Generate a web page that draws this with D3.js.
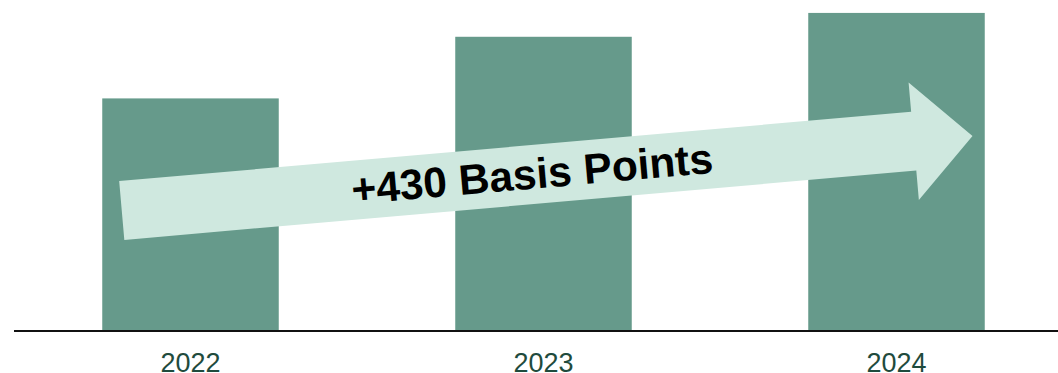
<!DOCTYPE html>
<html>
<head>
<meta charset="utf-8">
<script src="https://cdn.jsdelivr.net/npm/d3@7"></script>
<style>
  html, body { margin: 0; padding: 0; background: #ffffff; }
  svg { display: block; }
</style>
</head>
<body>
<div id="chart"></div>
<script>
// ---- data ----
const categories = ["2022", "2023", "2024"];
const values = [11.7, 14.8, 16.0];
const arrowLabel = "+430 Basis Points";

// ---- layout ----
const W = 1058, H = 373;
const baseY = 331;

const svg = d3.select("#chart").append("svg")
  .attr("width", W).attr("height", H);

const x = d3.scaleBand()
  .domain(categories)
  .range([14, 1073])
  .paddingInner(0.5)
  .paddingOuter(0.25);

const y = d3.scaleLinear()
  .domain([0, 16.65])
  .range([baseY, 0]);

// bars
svg.append("g").selectAll("rect")
  .data(categories.map((c, i) => ({ c, v: values[i] })))
  .join("rect")
  .attr("x", d => x(d.c))
  .attr("y", d => y(d.v))
  .attr("width", x.bandwidth())
  .attr("height", d => y(0) - y(d.v))
  .attr("fill", "#669a8b");

// x axis
const xAxis = svg.append("g")
  .attr("transform", `translate(0,${baseY})`)
  .call(d3.axisBottom(x).tickSize(0).tickPadding(22));
xAxis.select(".domain").remove();
xAxis.selectAll("text")
  .attr("font-family", "Liberation Sans, Arial, sans-serif")
  .attr("font-size", 27)
  .attr("fill", "#1f4b3d");

svg.append("line")
  .attr("x1", 14).attr("x2", W)
  .attr("y1", baseY).attr("y2", baseY)
  .attr("stroke", "#111").attr("stroke-width", 2);

// arrow annotation (starts inside the 2022 bar, ends inside the 2024 bar)
const tailX = x("2022") + 19.5, tailY = 210.5;
const angle = -5;
const shaftLen = 795, shaftHalf = 29.5, headLen = 59, headHalf = 59;
const g = svg.append("g")
  .attr("transform", `translate(${tailX},${tailY}) rotate(${angle})`);
g.append("path")
  .attr("d", `M0,${-shaftHalf} L${shaftLen},${-shaftHalf} L${shaftLen},${-headHalf} L${shaftLen + headLen},0 L${shaftLen},${headHalf} L${shaftLen},${shaftHalf} L0,${shaftHalf} Z`)
  .attr("fill", "#cfe8df");
g.append("text")
  .attr("x", 412).attr("y", 14)
  .attr("text-anchor", "middle")
  .attr("font-family", "Liberation Sans, Arial, sans-serif")
  .attr("font-weight", "bold")
  .attr("font-size", 42.5)
  .attr("fill", "#000")
  .text(arrowLabel);
</script>
</body>
</html>
